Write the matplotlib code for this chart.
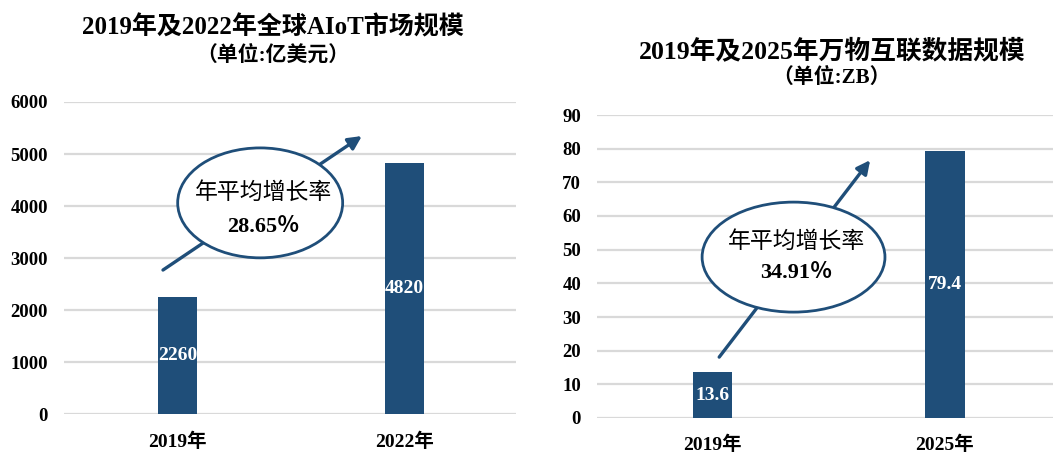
import matplotlib.pyplot as plt
from matplotlib.patches import Ellipse

plt.rcParams['font.family'] = ['Liberation Serif', 'Noto Sans CJK SC']

# left chart: global AIoT market (100M USD)
aiot_years = ['2019年', '2022年']
aiot_values = [2260, 4820]
aiot_ticks = [0, 1000, 2000, 3000, 4000, 5000, 6000]

# right chart: IoT data volume (ZB)
data_years = ['2019年', '2025年']
data_values = [13.6, 79.4]
data_ticks = [0, 10, 20, 30, 40, 50, 60, 70, 80, 90]

BAR = '#1f4e79'
GRID = '#d9d9d9'
W, H = 1055, 453


def draw_panel(ax, cats, vals, ticks, xlim, rate, ell, arrow, txt_y):
    x = list(range(len(cats)))
    ax.set_axisbelow(True)
    ax.yaxis.grid(True, color=GRID, linewidth=1.6)
    ax.bar(x, vals, width=0.17, color=BAR, zorder=2)
    for xi, v in zip(x, vals):
        ax.text(xi, v / 2, f'{v:g}', ha='center', va='center', color='white',
                fontsize=14, fontweight='bold', zorder=3)
    ax.set_xlim(*xlim)
    ax.set_ylim(ticks[0], ticks[-1])
    ax.set_yticks(ticks)
    ax.set_xticks(x)
    ax.set_xticklabels(cats)
    for lab in ax.get_yticklabels():
        lab.set_fontweight('bold')
        lab.set_fontsize(13.5)
    for lab in ax.get_xticklabels():
        lab.set_fontweight('bold')
        lab.set_fontsize(14)
    ax.tick_params(axis='y', length=0, pad=11.5)
    ax.tick_params(axis='x', length=0, pad=13)
    for s in ax.spines.values():
        s.set_visible(False)

    # growth-rate callout
    ax.annotate('', xy=arrow[1], xytext=arrow[0], xycoords='axes fraction',
                textcoords='axes fraction', zorder=4,
                arrowprops=dict(arrowstyle='-|>,head_length=0.8,head_width=0.4',
                                color=BAR, lw=2.4, shrinkA=0, shrinkB=0))
    ax.add_patch(Ellipse(ell[0], ell[1], ell[2], transform=ax.transAxes,
                         facecolor='white', edgecolor=BAR, lw=2, zorder=5,
                         clip_on=False))
    ax.text(txt_y[0], txt_y[1], '年平均增长率', transform=ax.transAxes,
            ha='center', va='center', fontsize=16.5, zorder=6)
    ax.text(txt_y[0], txt_y[2], rate, transform=ax.transAxes,
            ha='center', va='center', fontsize=16, fontweight='bold', zorder=6)


fig = plt.figure(figsize=(W / 100, H / 100), dpi=100)

ax1 = fig.add_axes([64 / W, (H - 414.3) / H, 452 / W, 312.3 / H])
draw_panel(ax1, aiot_years, aiot_values, aiot_ticks, (-0.5, 1.49), '28.65％',
           ((0.434, 0.677), 0.365, 0.352), ((0.219, 0.462), (0.659, 0.891)),
           (0.441, 0.709, 0.600))

ax2 = fig.add_axes([597 / W, (H - 418) / H, 456 / W, 303 / H])
draw_panel(ax2, data_years, data_values, data_ticks, (-0.497, 1.465), '34.91％',
           ((0.431, 0.531), 0.401, 0.363), ((0.268, 0.201), (0.599, 0.851)),
           (0.437, 0.581, 0.479))

fig.text(273 / W, 1 - 27 / H, '2019年及2022年全球AIoT市场规模', ha='center',
         va='center', fontsize=18, fontweight='bold')
fig.text(273 / W, 1 - 56 / H, '（单位:亿美元）', ha='center', va='center',
         fontsize=15, fontweight='bold')
fig.text(832 / W, 1 - 51 / H, '2019年及2025年万物互联数据规模', ha='center',
         va='center', fontsize=18.5, fontweight='bold')
fig.text(831 / W, 1 - 78 / H, '（单位:ZB）', ha='center', va='center',
         fontsize=15, fontweight='bold')

fig.savefig('out.png', dpi=100)
